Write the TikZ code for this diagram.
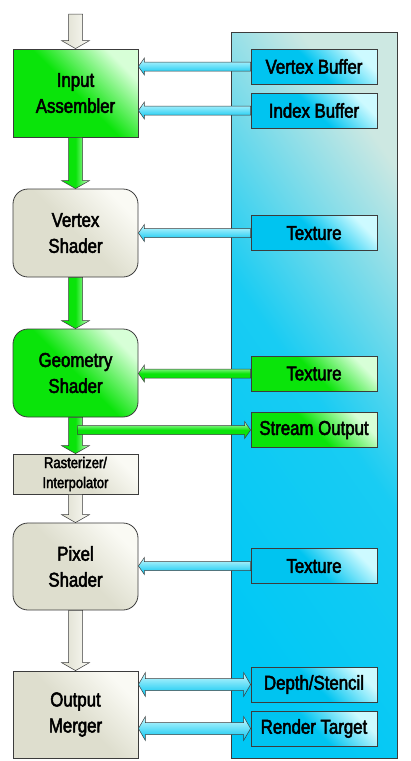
\documentclass[tikz,border=0pt]{standalone}
\usepackage{fontspec}
\setmainfont[FakeStretch=0.84,FakeBold=2.5]{Liberation Sans}
\usepackage{xcolor}
\usepackage{tikz}
\usetikzlibrary{calc}

\definecolor{grn}{RGB}{10,228,10}
\definecolor{grnlt}{RGB}{215,255,215}
\definecolor{gry}{RGB}{222,222,206}
\definecolor{grylt}{RGB}{250,250,244}
\definecolor{cyn}{RGB}{0,200,245}
\definecolor{cynlt}{RGB}{205,232,226}
\definecolor{bbx}{RGB}{0,196,240}
\definecolor{bbxlt}{RGB}{205,250,255}
\definecolor{edge}{RGB}{60,60,60}

\tikzset{
  stage/.style={draw=edge, line width=0.8pt, minimum width=125pt, minimum height=88pt, inner sep=0pt, align=center, font=\fontsize{20}{26}\selectfont},
  shader/.style={stage, rounded corners=15pt},
  res/.style={draw=edge, line width=0.8pt, minimum width=126pt, minimum height=35pt, inner sep=0pt, font=\fontsize{20}{24}\selectfont},
  greenish/.style={bottom color=grn, top color=grnlt, middle color=grn, shading angle=-45},
  greyish/.style={bottom color=gry, top color=grylt, middle color=gry, shading angle=-45},
  bluish/.style={bottom color=bbx, top color=bbxlt, middle color=bbx, shading angle=-45},
  garrow/.style={draw=edge, line width=0.5pt, left color=grn, right color=grnlt, middle color=grn},
  warrow/.style={draw=edge, line width=0.5pt, left color=gry, right color=grylt},
  barrow/.style={draw=edge, line width=0.5pt, top color=bbxlt, bottom color=bbx},
  hgarrow/.style={draw=edge, line width=0.5pt, top color=grnlt, bottom color=grn, middle color=grn},
}

% block arrows between nodes
\newcommand{\flowdown}[3]{%
  \path[#1] ($(#2)+(-7,0)$) -- ($(#3)+(-7,-8)$) -- ($(#3)+(-14,-8)$) -- (#3) -- ($(#3)+(14,-8)$) -- ($(#3)+(7,-8)$) -- ($(#2)+(7,0)$) -- cycle;}
\newcommand{\flowleft}[3]{%
  \path[#1] ($(#2.west)+(0,-4.5)$) -- ($(#3.east |- #2.west)+(6,-4.5)$) -- ($(#3.east |- #2.west)+(6,-8.5)$) -- (#3.east |- #2.west) -- ($(#3.east |- #2.west)+(6,8.5)$) -- ($(#3.east |- #2.west)+(6,4.5)$) -- ($(#2.west)+(0,4.5)$) -- cycle;}
\newcommand{\flowright}[3]{%
  \path[#1] ($(#2)+(0,-4.5)$) -- ($(#3.west)+(-6,-4.5)$) -- ($(#3.west)+(-6,-8.5)$) -- (#3.west) -- ($(#3.west)+(-6,8.5)$) -- ($(#3.west)+(-6,4.5)$) -- ($(#2)+(0,4.5)$) -- cycle;}
\newcommand{\flowboth}[3]{%
  \path[#1] (#3.east |- #2.west) -- ($(#3.east |- #2.west)+(7,-12)$) -- ($(#3.east |- #2.west)+(7,-6)$) -- ($(#2.west)+(-7,-6)$) -- ($(#2.west)+(-7,-12)$) -- (#2.west) -- ($(#2.west)+(-7,12)$) -- ($(#2.west)+(-7,6)$) -- ($(#3.east |- #2.west)+(7,6)$) -- ($(#3.east |- #2.west)+(7,12)$) -- cycle;}

\begin{document}
\begin{tikzpicture}[x=1pt, y=-1pt]
\useasboundingbox (0,0) rectangle (411,761);
\node[draw=edge, line width=0.8pt, minimum width=166pt, minimum height=726pt, bottom color=cyn, top color=cynlt, middle color=cyn!88!cynlt, shading angle=-55] (mem) at (314,395) {};

\node[stage, greenish] (ia) at (75.5,93) {Input\\Assembler};
\node[shader, greyish] (vs) at (75.5,233) {Vertex\\Shader};
\node[shader, greenish] (gs) at (75.5,373) {Geometry\\Shader};
\node[stage, greyish, minimum height=40pt, font=\fontsize{15.5}{20}\selectfont] (rs) at (75.5,474) {Rasterizer/\\Interpolator};
\node[shader, greyish, minimum height=87pt] (ps) at (75.5,566.5) {Pixel\\Shader};
\node[stage, greyish, minimum height=87pt] (om) at (75.5,714.5) {Output\\Merger};

\foreach \nm/\yy/\txt in {vb/66.5/Vertex Buffer, ib/110.5/Index Buffer, tx/233/Texture, pt/566/Texture, ds/684.5/{Depth/Stencil}, rt/728.5/Render Target} {
  \node[res, bluish] (\nm) at (314,\yy) {\txt};
}
\node[res, greenish] (gt) at (314,373.5) {Texture};
\node[res, greenish] (so) at (314,430) {Stream Output};

\coordinate (in) at (75.5,14);
\coordinate (tap) at ($(gs.south |- so.west)+(2,0)$);

\flowdown{warrow}{in}{ia.north}
\flowdown{garrow}{ia.south}{vs.north}
\flowdown{garrow}{vs.south}{gs.north}
\flowdown{garrow}{gs.south}{rs.north}
\flowdown{warrow}{rs.south}{ps.north}
\flowdown{warrow}{ps.south}{om.north}

\flowleft{barrow}{vb}{ia}
\flowleft{barrow}{ib}{ia}
\flowleft{barrow}{tx}{vs}
\flowleft{hgarrow}{gt}{gs}
\flowright{hgarrow}{tap}{so}
\flowleft{barrow}{pt}{ps}
\flowboth{barrow}{ds}{om}
\flowboth{barrow}{rt}{om}
\end{tikzpicture}
\end{document}
